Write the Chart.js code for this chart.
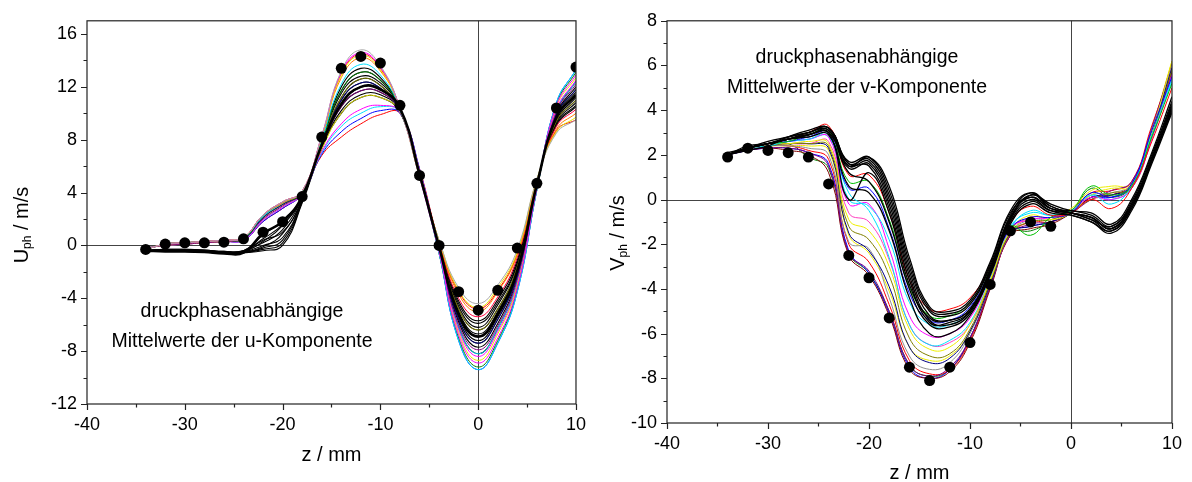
<!DOCTYPE html>
<html>
<head>
<meta charset="utf-8">
<script src="https://cdn.jsdelivr.net/npm/chart.js@4.4.1/dist/chart.umd.min.js"></script>
<style>
  html, body { margin: 0; padding: 0; background: #fff; }
  #wrap { position: relative; width: 1192px; height: 482px; overflow: hidden; }
  canvas { position: absolute; top: 0; }
</style>
</head>
<body>
<div id="wrap">
  <canvas id="cu" width="596" height="482" style="left:0"></canvas>
  <canvas id="cv" width="596" height="482" style="left:596px"></canvas>
</div>
<script>
// z positions (mm) of the measured points
const zGrid = [-34, -32, -30, -28, -26, -24, -22, -20, -18, -16, -14, -12, -10, -8, -6, -4, -2, 0, 2, 4, 6, 8, 10];

// ---- u-Komponente: phase curves ----
const uC01 = [-0.3, 0.1, 0.2, 0.3, 0.4, 0.6, 2.3, 3.3, 4.1, 8.3, 13.2, 14.8, 13.6, 10.4, 5.2, 0.4, -3.2, -4.4, -3.0, -0.3, 5.0, 8.5, 9.5];
const uC02 = [-0.3, 0.1, 0.2, 0.3, 0.4, 0.6, 2.3, 3.3, 4.1, 8.3, 13.1, 14.6, 13.5, 10.4, 5.2, -0.5, -6.8, -8.9, -7.0, -3.2, 4.3, 10.6, 12.9];
const uC03 = [-0.3, 0.1, 0.2, 0.3, 0.4, 0.6, 2.3, 3.3, 4.1, 8.2, 12.9, 14.4, 13.3, 10.4, 5.2, 0.4, -3.4, -4.7, -3.2, -0.5, 5.0, 8.6, 9.7];
const uC04 = [-0.3, 0.1, 0.2, 0.3, 0.4, 0.6, 2.3, 3.2, 4.1, 8.2, 12.7, 14.2, 13.2, 10.4, 5.3, 0.3, -3.7, -5.0, -3.5, -0.7, 4.9, 8.8, 10.0];
const uC05 = [-0.3, 0.1, 0.2, 0.3, 0.4, 0.6, 2.2, 3.2, 4.1, 8.0, 12.2, 13.7, 12.9, 10.3, 5.3, -0.6, -7.2, -9.4, -7.4, -3.5, 4.2, 10.8, 13.3];
const uC06 = [-0.3, 0.1, 0.2, 0.3, 0.4, 0.5, 2.2, 3.2, 4.0, 7.9, 11.7, 13.1, 12.5, 10.3, 5.4, -0.6, -7.0, -9.2, -7.2, -3.3, 4.2, 10.7, 13.1];
const uC07 = [-0.3, 0.1, 0.2, 0.3, 0.4, 0.5, 2.1, 3.1, 4.0, 7.6, 11.0, 12.3, 11.9, 10.2, 5.5, -0.2, -5.6, -7.4, -5.6, -2.2, 4.5, 9.9, 11.8];
const uC08 = [-0.2, 0.0, 0.1, 0.2, 0.3, 0.5, 2.0, 3.0, 4.0, 7.5, 10.5, 11.7, 11.6, 10.2, 5.5, -0.3, -6.0, -7.9, -6.1, -2.5, 4.4, 10.1, 12.2];
const uC09 = [-0.2, 0.0, 0.1, 0.2, 0.3, 0.5, 2.0, 3.0, 4.0, 7.3, 10.0, 11.2, 11.2, 10.1, 5.6, -0.5, -6.6, -8.7, -6.7, -3.0, 4.3, 10.5, 12.7];
const uC10 = [-0.2, 0.0, 0.1, 0.2, 0.3, 0.4, 1.9, 2.9, 3.9, 7.1, 9.2, 10.3, 10.6, 10.1, 5.7, -0.4, -6.4, -8.4, -6.5, -2.9, 4.4, 10.3, 12.5];
const uC11 = [-0.2, 0.0, 0.1, 0.2, 0.3, 0.4, 1.9, 2.9, 3.9, 7.0, 9.0, 10.0, 10.5, 10.1, 5.7, -0.4, -6.2, -8.2, -6.3, -2.7, 4.4, 10.2, 12.4];
const uC12 = [-0.2, 0.0, 0.1, 0.2, 0.3, 0.4, 1.8, 2.8, 3.9, 6.9, 8.6, 9.6, 10.2, 10.0, 5.8, -0.6, -7.2, -9.4, -7.4, -3.5, 4.2, 10.8, 13.3];
const uC13 = [-0.2, 0.0, 0.1, 0.2, 0.3, 0.4, 1.8, 2.8, 3.9, 6.8, 8.2, 9.2, 9.9, 10.0, 5.8, 0.3, -3.5, -4.8, -3.4, -0.6, 4.9, 8.7, 9.5];
const uC14 = [-0.3, 0.1, 0.2, 0.3, 0.4, 0.5, 2.1, 3.1, 4.0, 7.7, 11.2, 12.6, 12.1, 10.2, 5.4, 0.0, -4.8, -6.4, -4.8, -1.6, 4.7, 9.4, 11.0];
const uC15 = [-0.3, 0.1, 0.2, 0.3, 0.4, 0.5, 2.1, 3.1, 4.0, 7.6, 10.7, 12.0, 11.8, 10.2, 5.5, -0.1, -5.2, -6.9, -5.2, -1.9, 4.6, 9.7, 11.4];
const uC16 = [-0.3, 0.1, 0.2, 0.3, 0.4, 0.6, 2.3, 3.3, 4.1, 8.2, 13.0, 14.5, 13.4, 10.4, 5.2, 0.2, -4.0, -5.4, -3.9, -0.9, 4.8, 9.0, 10.3];
const uColors = ['#a8a8a8', '#ff00ff', '#e6e600', '#ff8000', '#00e0ff', '#008000', '#000080', '#800080',
                 '#e6e600', '#ff00ff', '#00e0ff', '#0000ff', '#ff0000', '#808000', '#008080', '#ff0040'];

const uK01 = [-0.4, -0.35, -0.35, -0.4, -0.5, -0.4, 0.2, 1.2, 3.6, 7.4, 10.2, 11.4, 11.4, 10.2, 5.6, -0.1, -5.2, -6.9, -5.2, -1.9, 4.6, 9.7, 11.4];
const uK02 = [-0.4, -0.4, -0.4, -0.45, -0.55, -0.5, 0.0, 0.6, 3.4, 7.5, 10.7, 12.0, 11.8, 10.2, 5.5, 0.1, -4.4, -5.9, -4.3, -1.3, 4.8, 9.2, 10.6];
const uK03 = [-0.4, -0.4, -0.4, -0.45, -0.55, -0.55, -0.3, 0.2, 3.3, 7.6, 11.0, 12.3, 11.9, 10.2, 5.5, -0.3, -5.8, -7.7, -5.9, -2.4, 4.5, 10.0, 12.0];
const uK04 = [-0.35, -0.3, -0.3, -0.35, -0.45, -0.4, 0.5, 1.6, 3.6, 7.7, 11.2, 12.6, 12.1, 10.2, 5.4, 0.0, -5.0, -6.7, -5.0, -1.7, 4.6, 9.5, 11.2];
const uK05 = [-0.4, -0.4, -0.4, -0.4, -0.5, -0.5, -0.1, 0.9, 3.5, 7.8, 11.5, 12.8, 12.3, 10.3, 5.4, -0.2, -5.4, -7.2, -5.4, -2.1, 4.6, 9.8, 11.6];
const uK06 = [-0.4, -0.35, -0.4, -0.45, -0.55, -0.5, 0.3, 1.5, 3.6, 7.5, 10.5, 11.7, 11.6, 10.2, 5.5, 0.1, -4.6, -6.2, -4.5, -1.4, 4.7, 9.3, 10.8];
const uK07 = [-0.4, -0.45, -0.45, -0.5, -0.6, -0.55, -0.2, 0.4, 3.4, 7.6, 10.7, 12.0, 11.8, 10.2, 5.5, -0.4, -6.2, -8.2, -6.3, -2.7, 4.4, 10.2, 12.4];
const uK08 = [-0.35, -0.3, -0.3, -0.35, -0.45, -0.4, 0.8, 1.9, 3.7, 7.9, 11.7, 13.1, 12.5, 10.3, 5.4, 0.2, -4.2, -5.7, -4.1, -1.1, 4.8, 9.1, 10.5];
const uK09 = [-0.45, -0.45, -0.45, -0.5, -0.6, -0.55, -0.4, 0.0, 3.2, 7.3, 10.0, 11.2, 11.2, 10.1, 5.6, -0.2, -5.6, -7.4, -5.6, -2.2, 4.5, 9.9, 11.8];
const uK10 = [-0.4, -0.4, -0.4, -0.4, -0.5, -0.45, 0.4, 1.0, 3.5, 7.9, 12.0, 13.4, 12.7, 10.3, 5.4, 0.0, -4.8, -6.4, -4.8, -1.6, 4.7, 9.4, 11.0];
const uThick = [-0.4, -0.45, -0.45, -0.5, -0.6, -0.55, 0.9, 1.8, 3.7, 7.6, 10.7, 12.0, 11.8, 10.4, 5.4, -0.1, -5.2, -6.9, -5.2, -1.9, 4.6, 9.7, 11.4];
const uDots = [-0.3, 0.1, 0.2, 0.2, 0.25, 0.5, 1.0, 1.8, 3.7, 8.2, 13.4, 14.3, 13.8, 10.6, 5.3, 0.0, -3.5, -4.9, -3.4, -0.2, 4.7, 10.4, 13.5];

// ---- v-Komponente: phase curves ----
const vC01 = [2.0, 2.3, 2.5, 2.7, 3.0, 3.3, 1.1, 1.1, -0.6, -3.6, -4.9, -4.9, -4.4, -3.0, -1.0, -0.3, -0.7, -0.6, 0.0, -0.4, 0.5, 2.6, 5.0];
const vC02 = [2.0, 2.3, 2.5, 2.6, 2.9, 3.1, 0.8, 0.8, -0.9, -3.9, -5.2, -5.2, -4.6, -3.1, -1.2, -1.6, -0.8, -0.5, 0.6, 0.2, 0.6, 2.8, 5.2];
const vC03 = [2.0, 2.3, 2.5, 2.6, 2.8, 3.0, 0.5, 0.5, -1.3, -4.2, -5.4, -5.4, -4.8, -3.2, -1.3, -0.8, -0.8, -0.6, 0.3, 0.1, 0.7, 3.1, 5.5];
const vC04 = [2.0, 2.3, 2.4, 2.6, 2.7, 2.9, 0.0, -0.3, -1.8, -4.6, -5.6, -5.6, -5.0, -3.3, -1.2, -0.6, -0.7, -0.5, 0.2, -0.2, 0.6, 2.9, 5.4];
const vC05 = [2.0, 2.3, 2.5, 2.6, 2.7, 2.8, -0.2, -0.2, -2.2, -5.2, -6.1, -6.0, -5.3, -3.4, -1.3, -0.9, -0.8, -0.5, 0.1, 0.0, 0.5, 2.7, 5.6];
const vC06 = [2.0, 2.3, 2.5, 2.5, 2.6, 2.5, -0.9, -1.4, -3.0, -5.8, -6.7, -6.6, -5.6, -3.6, -1.4, -0.7, -0.9, -0.6, 0.2, 0.5, 0.6, 3.0, 6.2];
const vC07 = [2.0, 2.3, 2.4, 2.5, 2.5, 2.4, -1.2, -1.8, -3.4, -6.2, -7.0, -6.9, -5.8, -3.7, -1.5, -1.0, -0.9, -0.5, 0.0, 0.3, 0.5, 2.8, 5.8];
const vC08 = [2.0, 2.2, 2.4, 2.5, 2.5, 2.3, -1.5, -2.3, -3.9, -6.6, -7.3, -7.1, -5.9, -3.8, -1.5, -1.2, -1.0, -0.6, 0.1, 0.2, 0.6, 3.0, 5.9];
const vC09 = [2.0, 2.3, 2.4, 2.4, 2.3, 2.0, -1.9, -2.2, -4.4, -7.0, -7.6, -7.3, -6.0, -3.8, -1.5, -0.9, -0.9, -0.5, 0.2, 0.3, 0.7, 3.1, 6.0];
const vC10 = [2.0, 2.2, 2.3, 2.3, 2.1, 1.5, -2.4, -3.2, -5.0, -7.4, -7.9, -7.5, -6.2, -3.9, -1.6, -1.1, -1.0, -0.6, 0.0, 0.4, 0.8, 3.2, 6.1];
const vC11 = [2.0, 2.2, 2.3, 2.2, 2.0, 1.2, -2.5, -3.4, -5.2, -7.6, -8.0, -7.7, -6.4, -4.0, -1.6, -1.3, -1.1, -0.6, 0.1, 0.2, 0.7, 3.0, 5.7];
const vC12 = [2.0, 2.3, 2.4, 2.4, 2.2, 1.8, -2.0, -2.8, -4.7, -7.2, -7.8, -7.6, -6.3, -3.9, -1.6, -1.0, -1.0, -0.5, 0.3, 0.4, 0.8, 3.3, 5.9];
const vC13 = [2.0, 2.2, 2.3, 2.3, 2.1, 1.6, -2.3, -3.3, -5.1, -7.5, -8.0, -7.6, -6.2, -3.9, -1.5, -1.2, -1.0, -0.6, 0.1, 0.1, 0.6, 3.0, 5.6];
const vC14 = [2.0, 2.3, 2.5, 2.6, 2.7, 2.8, 0.3, -0.5, -2.6, -5.6, -6.5, -6.3, -5.5, -3.5, -1.3, -0.5, -0.7, -0.5, 0.2, 0.0, 0.5, 2.8, 5.3];
const vC15 = [2.0, 2.3, 2.5, 2.5, 2.5, 2.6, -0.6, -1.0, -2.7, -5.6, -6.5, -6.4, -5.6, -3.6, -1.4, -0.8, -0.8, -0.5, 0.0, 0.2, 0.6, 2.9, 5.7];
const vC16 = [2.0, 2.3, 2.4, 2.4, 2.4, 2.2, -1.6, -2.4, -4.1, -6.6, -7.2, -7.0, -5.9, -3.7, -1.5, -0.8, -0.8, -0.4, 0.4, 0.6, 0.7, 3.2, 6.2];
const vC17 = [2.0, 2.3, 2.4, 2.5, 1.9, 1.4, -2.4, -3.3, -5.0, -7.4, -7.9, -7.6, -6.2, -3.9, -1.5, -1.4, -1.0, -0.6, 0.5, 0.1, 0.6, 3.0, 5.8];
const vColors = ['#ff0000', '#00c000', '#0000ff', '#00e0ff', '#ff00ff', '#eeee00', '#808000', '#000080', '#909090',
                 '#800080', '#800000', '#ff0000', '#0000ff', '#00e0ff', '#ff40c0', '#eeee00', '#008000'];

const vK01 = [2.0, 2.3, 2.5, 2.8, 3.0, 3.2, 1.6, 1.8, 0.2, -3.0, -5.0, -5.2, -4.7, -3.0, -0.8, 0.2, -0.3, -0.6, -0.8, -1.3, -0.2, 1.8, 4.0];
const vK02 = [2.0, 2.3, 2.5, 2.7, 3.0, 3.1, 1.5, 1.7, 0.0, -3.2, -5.2, -5.4, -4.9, -3.1, -0.7, 0.3, -0.3, -0.6, -0.9, -1.4, -0.4, 1.7, 4.2];
const vK03 = [2.0, 2.2, 2.4, 2.8, 3.1, 3.2, 1.7, 1.9, 0.4, -2.8, -4.9, -5.1, -4.6, -2.9, -0.6, 0.1, -0.4, -0.5, -0.7, -1.2, -0.1, 2.0, 4.4];
const vK04 = [2.1, 2.3, 2.5, 2.7, 2.9, 3.0, 1.4, 1.6, -0.2, -3.4, -5.4, -5.6, -5.0, -3.2, -0.9, 0.0, -0.5, -0.7, -1.0, -1.5, -0.5, 1.6, 3.9];
const vK05 = [2.0, 2.3, 2.6, 2.8, 3.0, 3.2, 1.6, 1.5, -0.4, -3.6, -5.5, -5.5, -5.0, -3.3, -0.9, 0.2, -0.2, -0.5, -0.6, -1.1, 0.0, 2.1, 4.6];
const vK06 = [2.0, 2.4, 2.5, 2.7, 2.9, 3.1, 1.5, 1.9, 0.6, -2.6, -4.8, -5.0, -4.5, -2.8, -0.5, 0.3, -0.4, -0.6, -0.8, -1.3, -0.3, 1.9, 4.3];
const vK07 = [2.0, 2.3, 2.5, 2.7, 2.9, 3.0, 1.2, 0.8, -1.0, -4.0, -5.6, -5.7, -5.1, -3.3, -1.0, -0.1, -0.5, -0.6, -0.9, -1.2, -0.2, 1.8, 4.1];
const vK08 = [2.0, 2.3, 2.5, 2.7, 2.8, 2.9, 0.6, 0.3, -1.4, -4.4, -6.0, -6.0, -5.2, -3.4, -1.1, -0.2, -0.6, -0.7, -1.0, -1.4, -0.4, 1.7, 4.0];
const vK09 = [2.0, 2.3, 2.5, 2.7, 2.9, 3.0, 0.0, 1.2, -0.6, -3.8, -5.3, -5.4, -4.9, -3.2, -0.8, 0.1, -0.4, -0.6, -0.8, -1.3, -0.3, 1.8, 4.2];
const vDots = [1.9, 2.3, 2.2, 2.1, 1.9, 0.7, -2.5, -3.5, -5.3, -7.5, -8.1, -7.5, -6.4, -3.8, -1.4, -1.0, -1.2, null, null, null, null, null, null];

const FONT = '"Liberation Sans", Arial, Helvetica, sans-serif';

function toPoints(values) {
  return zGrid.map((z, i) => ({ x: z, y: values[i] }));
}

function curves(list, colors, width) {
  return list.map((values, i) => ({
    data: toPoints(values),
    borderColor: colors ? colors[i] : '#000',
    borderWidth: width,
    pointRadius: 0,
    tension: 0.45,
    fill: false,
  }));
}

function dots(values) {
  return {
    data: toPoints(values),
    showLine: false,
    pointRadius: 5.5,
    pointBackgroundColor: '#000',
    pointBorderColor: '#000',
    pointBorderWidth: 0,
  };
}

function drawYTitle(ctx, main, sub, rest, bx, cy) {
  const big = '20px ' + FONT, small = '12px ' + FONT;
  ctx.save();
  ctx.translate(bx, cy);
  ctx.rotate(-Math.PI / 2);
  ctx.fillStyle = '#000';
  ctx.textAlign = 'left';
  ctx.textBaseline = 'alphabetic';
  ctx.font = big;
  const w1 = ctx.measureText(main).width, w3 = ctx.measureText(rest).width;
  ctx.font = small;
  const w2 = ctx.measureText(sub).width;
  let x = -(w1 + w2 + w3) / 2;
  ctx.font = big; ctx.fillText(main, x, 0); x += w1;
  ctx.font = small; ctx.fillText(sub, x, 3); x += w2;
  ctx.font = big; ctx.fillText(rest, x, 0);
  ctx.restore();
}

function makePanel(id, p) {
  const decor = {
    id: 'decor',
    beforeDatasetsDraw(chart) {
      const { ctx, chartArea: a, scales: { x, y } } = chart;
      ctx.save();
      ctx.strokeStyle = '#444';
      ctx.lineWidth = 1;
      ctx.beginPath();
      ctx.moveTo(a.left, Math.round(y.getPixelForValue(0)) + 0.5);
      ctx.lineTo(a.right, Math.round(y.getPixelForValue(0)) + 0.5);
      ctx.moveTo(Math.round(x.getPixelForValue(0)) + 0.5, a.top);
      ctx.lineTo(Math.round(x.getPixelForValue(0)) + 0.5, a.bottom);
      ctx.stroke();
      ctx.restore();
    },
    afterDraw(chart) {
      const { ctx, chartArea: a, scales: { x, y } } = chart;
      ctx.save();
      ctx.strokeStyle = '#222';
      ctx.lineWidth = 1.2;
      ctx.strokeRect(a.left, a.top, a.right - a.left, a.bottom - a.top);
      ctx.beginPath();
      for (let v = p.yMin; v <= p.yMax; v += p.yMinor) {
        const len = (v % p.yMajor === 0) ? 6 : 3.5;
        const py = Math.round(y.getPixelForValue(v)) + 0.5;
        ctx.moveTo(a.left - len, py);
        ctx.lineTo(a.left, py);
      }
      for (let v = -40; v <= 10; v += 5) {
        const len = (v % 10 === 0) ? 6 : 3.5;
        const px = Math.round(x.getPixelForValue(v)) + 0.5;
        ctx.moveTo(px, a.bottom);
        ctx.lineTo(px, a.bottom + len);
      }
      ctx.stroke();

      ctx.fillStyle = '#000';
      ctx.textAlign = 'center';
      ctx.textBaseline = 'alphabetic';
      ctx.font = '20px ' + FONT;
      ctx.fillText('z / mm', (a.left + a.right) / 2, p.xTitleY);

      ctx.textBaseline = 'middle';
      ctx.font = '19.5px ' + FONT;
      p.notes.forEach(n => ctx.fillText(n.text, n.x, n.y));
      ctx.restore();

      drawYTitle(ctx, p.yLetter, 'ph', ' / m/s', p.yTitleX, p.yTitleY);
    },
  };

  return new Chart(document.getElementById(id), {
    type: 'line',
    data: { datasets: p.datasets },
    options: {
      responsive: false,
      animation: false,
      events: [],
      layout: { padding: { left: 0, top: p.area.top, right: 596 - p.area.right, bottom: 0 } },
      plugins: { legend: { display: false }, tooltip: { enabled: false } },
      scales: {
        x: {
          type: 'linear',
          min: -40,
          max: 10,
          afterFit: s => { s.height = 482 - p.area.bottom; },
          grid: { display: false, drawTicks: false },
          border: { display: false },
          ticks: {
            stepSize: 5,
            autoSkip: false,
            maxRotation: 0,
            padding: 10,
            color: '#000',
            font: { family: FONT, size: 18 },
            callback: v => (v % 10 === 0 ? v : ''),
          },
        },
        y: {
          type: 'linear',
          min: p.yMin,
          max: p.yMax,
          afterFit: s => { s.width = p.area.left; },
          grid: { display: false, drawTicks: false },
          border: { display: false },
          ticks: {
            stepSize: p.yMinor,
            includeBounds: false,
            autoSkip: false,
            padding: 10,
            color: '#000',
            font: { family: FONT, size: 18 },
            callback: v => (v % p.yMajor === 0 ? v : ''),
          },
        },
      },
    },
    plugins: [decor],
  });
}

// first dataset is drawn on top
makePanel('cu', {
  area: { left: 87, right: 581, top: 12, bottom: 404 },
  yMin: -12, yMax: 17, yMajor: 4, yMinor: 2,
  yLetter: 'U', yTitleX: 28, yTitleY: 225,
  xTitleY: 461,
  notes: [
    { text: 'druckphasenabhängige', x: 242, y: 312 },
    { text: 'Mittelwerte der u-Komponente', x: 242, y: 342 },
  ],
  datasets: [dots(uDots)]
    .concat(curves([uThick], null, 2.6))
    .concat(curves([uC01, uC02, uC03, uC04, uC05, uC06, uC07, uC08, uC09, uC10, uC11, uC12, uC13, uC14, uC15, uC16], uColors, 1))
    .concat(curves([uK01, uK02, uK03, uK04, uK05, uK06, uK07, uK08, uK09, uK10], null, 1.1)),
});

makePanel('cv', {
  area: { left: 71, right: 580, top: 20, bottom: 423 },
  yMin: -10, yMax: 8, yMajor: 2, yMinor: 1,
  yLetter: 'V', yTitleX: 28, yTitleY: 233,
  xTitleY: 479,
  notes: [
    { text: 'druckphasenabhängige', x: 261, y: 58 },
    { text: 'Mittelwerte der v-Komponente', x: 261, y: 88 },
  ],
  datasets: [dots(vDots)]
    .concat(curves([vK01, vK02, vK03, vK04, vK05, vK06, vK07, vK08, vK09], null, 1.3))
    .concat(curves([vC01, vC02, vC03, vC04, vC05, vC06, vC07, vC08, vC09, vC10, vC11, vC12, vC13, vC14, vC15, vC16, vC17], vColors, 1)),
});
</script>
</body>
</html>
